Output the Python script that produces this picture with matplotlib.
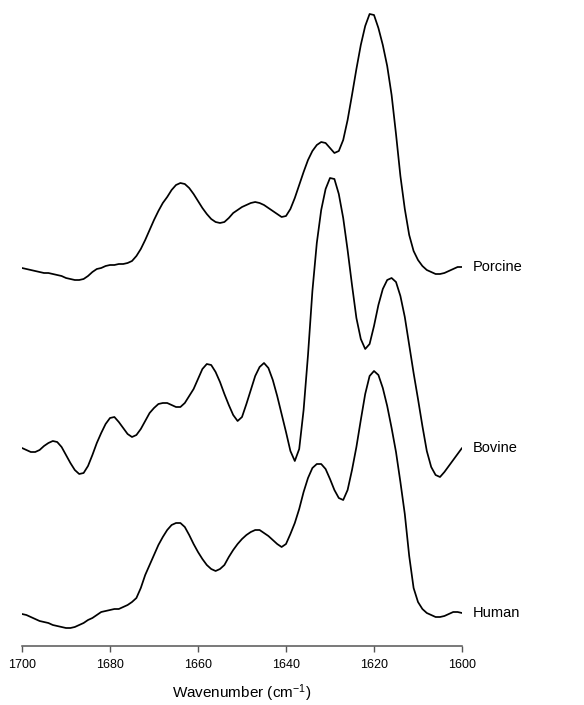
import matplotlib
matplotlib.use("Agg")
import matplotlib.pyplot as plt
import numpy as np

plt.rcParams['font.family'] = ['Liberation Sans', 'DejaVu Sans']
plt.rcParams['mathtext.fontset'] = 'custom'
plt.rcParams['mathtext.rm'] = 'Liberation Sans'
plt.rcParams['mathtext.it'] = 'Liberation Sans:italic'

# wavenumber grid, 1700 -> 1600 cm-1 in 1 cm-1 steps
wavenumber = np.arange(1700, 1599, -1)

# stacked spectra (arbitrary units, already offset)
porcine = [3.81, 3.80, 3.79, 3.78, 3.77, 3.76, 3.76, 3.75, 3.74, 3.73,
           3.71, 3.70, 3.69, 3.69, 3.70, 3.73, 3.77, 3.80, 3.81, 3.83,
           3.84, 3.84, 3.85, 3.85, 3.86, 3.88, 3.93, 4.00, 4.09, 4.19,
           4.29, 4.38, 4.46, 4.52, 4.59, 4.64, 4.66, 4.65, 4.61, 4.55,
           4.48, 4.41, 4.35, 4.30, 4.27, 4.26, 4.27, 4.31, 4.36, 4.39,
           4.42, 4.44, 4.46, 4.47, 4.46, 4.44, 4.41, 4.38, 4.35, 4.32,
           4.33, 4.40, 4.51, 4.64, 4.77, 4.89, 4.98, 5.04, 5.07, 5.06,
           5.01, 4.96, 4.98, 5.09, 5.29, 5.54, 5.80, 6.04, 6.23, 6.35,
           6.34, 6.21, 6.04, 5.83, 5.54, 5.15, 4.73, 4.40, 4.14, 3.98,
           3.89, 3.83, 3.79, 3.77, 3.75, 3.75, 3.76, 3.78, 3.80, 3.82,
           3.82]

bovine = [2.01, 1.99, 1.97, 1.97, 1.99, 2.03, 2.06, 2.08, 2.07, 2.02,
          1.94, 1.86, 1.79, 1.75, 1.76, 1.83, 1.94, 2.06, 2.16, 2.25,
          2.31, 2.32, 2.27, 2.21, 2.15, 2.12, 2.14, 2.20, 2.28, 2.36,
          2.41, 2.45, 2.46, 2.46, 2.44, 2.42, 2.42, 2.46, 2.53, 2.60,
          2.70, 2.80, 2.85, 2.84, 2.77, 2.67, 2.55, 2.44, 2.34, 2.28,
          2.32, 2.45, 2.59, 2.73, 2.82, 2.86, 2.81, 2.69, 2.53, 2.35,
          2.17, 1.98, 1.88, 2.00, 2.39, 2.94, 3.58, 4.06, 4.39, 4.60,
          4.71, 4.70, 4.55, 4.31, 3.99, 3.64, 3.31, 3.10, 3.00, 3.05,
          3.23, 3.44, 3.60, 3.69, 3.71, 3.67, 3.53, 3.32, 3.04, 2.76,
          2.50, 2.23, 1.98, 1.82, 1.74, 1.72, 1.77, 1.83, 1.89, 1.95,
          2.01]

human = [0.35, 0.34, 0.32, 0.30, 0.28, 0.27, 0.26, 0.24, 0.23, 0.22,
         0.21, 0.21, 0.22, 0.24, 0.26, 0.29, 0.31, 0.34, 0.37, 0.38,
         0.39, 0.40, 0.40, 0.42, 0.44, 0.47, 0.51, 0.61, 0.74, 0.84,
         0.94, 1.04, 1.12, 1.19, 1.24, 1.26, 1.26, 1.22, 1.14, 1.05,
         0.97, 0.90, 0.84, 0.80, 0.78, 0.80, 0.84, 0.92, 0.99, 1.05,
         1.10, 1.14, 1.17, 1.19, 1.19, 1.16, 1.13, 1.09, 1.05, 1.02,
         1.05, 1.15, 1.26, 1.40, 1.57, 1.71, 1.81, 1.85, 1.85, 1.80,
         1.70, 1.59, 1.51, 1.49, 1.59, 1.79, 2.02, 2.29, 2.55, 2.73,
         2.78, 2.74, 2.61, 2.43, 2.21, 1.97, 1.67, 1.35, 0.93, 0.61,
         0.47, 0.40, 0.36, 0.34, 0.32, 0.32, 0.33, 0.35, 0.37, 0.37,
         0.36]

names = ['Porcine', 'Bovine', 'Human']
xticks = [1700, 1680, 1660, 1640, 1620, 1600]

fig = plt.figure(figsize=(5.84, 7.05), dpi=100)
ax = fig.add_axes([22 / 584, 59 / 705, 440 / 584, 646 / 705])

for name, spec in zip(names, [porcine, bovine, human]):
    ax.plot(wavenumber, spec, color='black', lw=1.25,
            solid_joinstyle='round', solid_capstyle='round')
    ax.annotate(name, xy=(wavenumber[-1], spec[-1]), xytext=(7.5, 0),
                textcoords='offset points', va='center', ha='left',
                fontsize=10.5, annotation_clip=False)

ax.set_xlim(1700, 1600)
ax.set_ylim(0.03, 6.49)
ax.set_xticks(xticks)
ax.set_yticks([])
for s in ['left', 'right', 'top']:
    ax.spines[s].set_visible(False)
ax.spines['bottom'].set_color('#555555')
ax.spines['bottom'].set_linewidth(1.1)
ax.tick_params(axis='x', direction='out', length=4.5, width=1.0, color='#555555',
               labelsize=9, pad=5)
ax.set_xlabel('Wavenumber (cm$^{-1}$)', fontsize=11, labelpad=8)
ax.patch.set_alpha(0)

fig.savefig('out.png', dpi=100)
